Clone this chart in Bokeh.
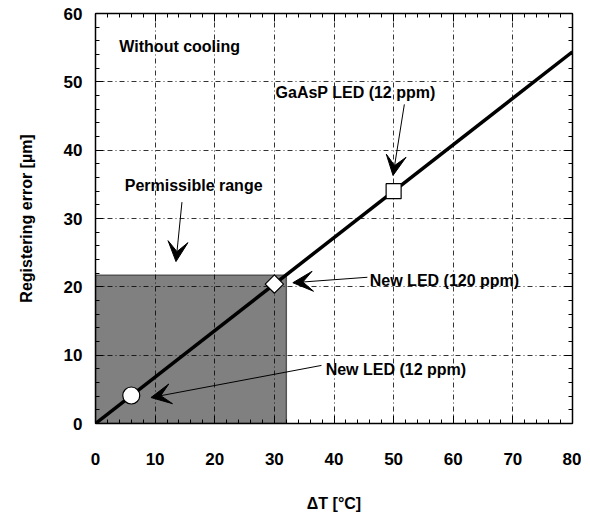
from bokeh.plotting import figure
from bokeh.models import (LinearAxis, Range1d, Arrow, VeeHead, Label, SingleIntervalTicker,
                          CustomJSTickFormatter)
from bokeh.embed import file_html
from bokeh.resources import INLINE

# data
line_x = [0, 80]
line_y = [0, 54.4]
pt_circle_x = [6]
pt_circle_y = [4.1]
pt_diamond_x = [30]
pt_diamond_y = [20.4]
pt_square_x = [50]
pt_square_y = [34.0]
range_x = [0, 32]
range_y = [0, 21.7]

FONT = "Liberation Sans"

p = figure(width=581, height=514, output_backend="svg", toolbar_location=None,
           x_range=Range1d(0, 80), y_range=Range1d(0, 60),
           min_border_left=95, min_border_top=13, min_border_right=9, min_border_bottom=87)
p.outline_line_color = None
p.background_fill_color = "white"

# shaded permissible range
p.quad(left=range_x[0], right=range_x[1], bottom=range_y[0], top=range_y[1],
       fill_color="#808080", line_color="#555555", line_width=1.5, level="image")

for g in (p.xgrid, p.ygrid):
    g.grid_line_color = "black"
    g.grid_line_dash = "5 3 1 3"
    g.grid_line_width = 0.8
p.xgrid.ticker = SingleIntervalTicker(interval=10, num_minor_ticks=5)
p.ygrid.ticker = SingleIntervalTicker(interval=10, num_minor_ticks=5)

p.line(line_x, line_y, line_color="black", line_width=3.5)
p.scatter(pt_circle_x, pt_circle_y, marker="circle", size=17, fill_color="white",
          line_color="black", line_width=1.2)
p.scatter(pt_diamond_x, pt_diamond_y, marker="square", angle=0.785398, size=13,
          fill_color="white", line_color="black", line_width=1.2)
p.scatter(pt_square_x, pt_square_y, marker="square", size=15, fill_color="white",
          line_color="black", line_width=1.2)

def style_axis(ax, labels=True):
    ax.ticker = SingleIntervalTicker(interval=10, num_minor_ticks=5)
    ax.axis_line_color = "black"
    ax.axis_line_width = 1.5
    ax.major_tick_in = 8
    ax.major_tick_out = 0
    ax.minor_tick_in = 4
    ax.minor_tick_out = 0
    ax.major_tick_line_color = "black"
    ax.minor_tick_line_color = "black"
    ax.major_tick_line_width = 1
    ax.minor_tick_line_width = 1
    ax.major_label_text_font = FONT
    ax.major_label_text_font_style = "bold"
    ax.major_label_text_font_size = "17px"
    ax.major_label_text_color = "black"
    ax.axis_label_text_font = FONT
    ax.axis_label_text_font_style = "bold"
    ax.axis_label_text_font_size = "16px"
    ax.axis_label_text_color = "black"
    if not labels:
        ax.formatter = CustomJSTickFormatter(code="return ''")
        ax.major_label_standoff = 0

xa = p.xaxis[0]
ya = p.yaxis[0]
style_axis(xa)
style_axis(ya)
xa.axis_label = "ΔT [°C]"
ya.axis_label = "Registering error [µm]"
xa.major_label_standoff = 29
xa.axis_label_standoff = 27
ya.major_label_standoff = 13
ya.axis_label_standoff = 26

top = LinearAxis()
style_axis(top, labels=False)
p.add_layout(top, "above")
right = LinearAxis()
style_axis(right, labels=False)
p.add_layout(right, "right")

def lab(x, y, t):
    p.add_layout(Label(x=x, y=y, text=t, text_font=FONT, text_font_style="bold",
                       text_font_size="16px", text_color="black",
                       text_baseline="middle", text_align="left"))

lab(4.0, 55.2, "Without cooling")
lab(30.2, 48.4, "GaAsP LED (12 ppm)")
lab(4.9, 34.9, "Permissible range")
lab(46.0, 21.0, "New LED (120 ppm)")
lab(38.6, 7.9, "New LED (12 ppm)")

def arr(x0, y0, x1, y1):
    p.add_layout(Arrow(x_start=x0, y_start=y0, x_end=x1, y_end=y1,
                       line_color="black", line_width=1,
                       end=VeeHead(size=20, fill_color="black", line_color="black")))

arr(51.8, 46.7, 49.9, 36.3)
arr(14.5, 32.4, 13.5, 23.7)
arr(45.6, 21.4, 33.1, 20.6)
arr(37.9, 8.5, 9.3, 3.8)

open("out.html", "w").write(file_html(p, INLINE))
